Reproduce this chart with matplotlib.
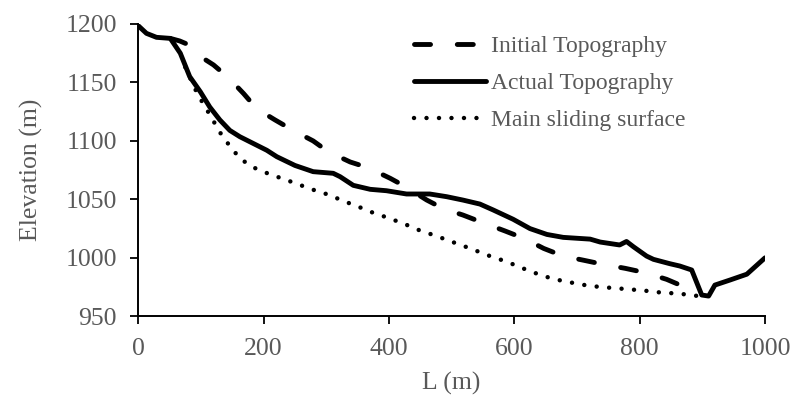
import matplotlib
matplotlib.use("Agg")
import matplotlib.pyplot as plt

# Longitudinal profile of the landslide: distance L (m) vs elevation (m)
actual_L = [0, 13, 29, 51, 67, 82, 99, 114, 130, 146, 162, 205, 221, 250,
            279, 311, 322, 343, 370, 396, 428, 465, 492, 518, 545, 566, 598,
            625, 652, 678, 721, 737, 768, 779, 790, 811, 822, 848, 864, 883,
            899, 910, 920, 944, 971, 1000]
actual_z = [1198.5, 1192, 1188.6, 1187.7, 1175, 1155, 1142, 1129, 1118, 1109,
            1103.6, 1092, 1086.5, 1079, 1073.7, 1072.3, 1069.4, 1062, 1058.6,
            1057.4, 1054.6, 1054.6, 1052.3, 1049.4, 1046, 1041, 1033, 1025,
            1020, 1017.5, 1016, 1013.5, 1011, 1014, 1009.5, 1001.5, 998.7, 995,
            993, 989.6, 968.2, 967.3, 976.7, 981, 986, 1000]

initial_L = [51, 66, 77, 88, 120, 144, 168, 189, 218, 247, 279, 303, 338, 367,
             402, 426, 460, 487, 518, 550, 585, 615, 647, 678, 710, 742, 777,
             809, 843, 872, 895]
initial_z = [1187.7, 1185.5, 1183, 1176, 1165, 1154, 1140.5, 1127.5, 1118,
             1109, 1100, 1090.8, 1082, 1077, 1068, 1061, 1049.5, 1042, 1036.6,
             1030, 1023, 1016.7, 1008, 1001.5, 998, 994.4, 991, 987.3, 981.6,
             975, 968]

sliding_L = [75, 90, 99, 109, 119, 128, 140, 151, 165, 181, 199, 218, 236, 255,
             274, 293, 311, 330, 349, 367, 386, 404, 423, 441, 460, 479, 497,
             516, 535, 553, 572, 591, 609, 628, 647, 665, 684, 705, 723, 742,
             764, 782, 801, 822, 840, 859, 881, 898]
sliding_z = [1163, 1145, 1136, 1127, 1118, 1109, 1100, 1092, 1084, 1078,
             1073.7, 1070, 1066.6, 1063, 1059, 1056, 1052.3, 1048, 1044.3,
             1040, 1036.6, 1033, 1029.5, 1025, 1021.5, 1018, 1014.4, 1010.7,
             1007, 1003, 999.6, 996, 992, 988, 984.4, 981.6, 979.6, 977.3,
             975.9, 974.8, 974, 973, 972.4, 971, 970, 969.6, 968.2, 967]

x_ticks = [0, 200, 400, 600, 800, 1000]
y_ticks = [950, 1000, 1050, 1100, 1150, 1200]

plt.rcParams["font.family"] = ["Liberation Serif", "DejaVu Serif"]
gray = "#595959"
lw = 3.5
axis_fs = 18.5
legend_fs = 17

fig = plt.figure(figsize=(7.94, 3.98), dpi=100)
ax = fig.add_axes([0.1742, 0.2053, 0.7893, 0.7344])

ax.plot(initial_L, initial_z, color="black", lw=lw,
        linestyle=(0, (3.3, 5.5)), dash_capstyle="round",
        label="Initial Topography")
ax.plot(actual_L, actual_z, color="black", lw=lw,
        solid_capstyle="round", solid_joinstyle="round",
        label="Actual Topography")
ax.plot(sliding_L, sliding_z, color="black", lw=3.2,
        linestyle=(0, (0.01, 2.8)), dash_capstyle="round",
        label="Main sliding surface")

ax.set_xlim(0, 1000)
ax.set_ylim(950, 1200)
ax.set_xticks(x_ticks)
ax.set_yticks(y_ticks)
ax.tick_params(axis="both", direction="out", length=5.5, width=1.3,
               colors="black", labelcolor=gray, labelsize=axis_fs)
ax.tick_params(axis="y", pad=10)
ax.tick_params(axis="x", pad=10)
for side in ("top", "right"):
    ax.spines[side].set_visible(False)
for side in ("left", "bottom"):
    ax.spines[side].set_linewidth(1.4)
    ax.spines[side].set_color("black")

ax.set_xlabel("L (m)", color=gray, fontsize=axis_fs)
ax.set_ylabel("Elevation (m)", color=gray, fontsize=axis_fs)
ax.xaxis.set_label_coords(0.5, -0.190)
ax.yaxis.set_label_coords(-0.152, 0.5)

leg = ax.legend(loc="upper left", bbox_to_anchor=(0.4255, 0.993),
                frameon=False, fontsize=legend_fs, handlelength=3.05,
                handletextpad=0.2, labelspacing=0.65, borderaxespad=0.0)
for t in leg.get_texts():
    t.set_color(gray)

fig.savefig("out.png", dpi=100)
